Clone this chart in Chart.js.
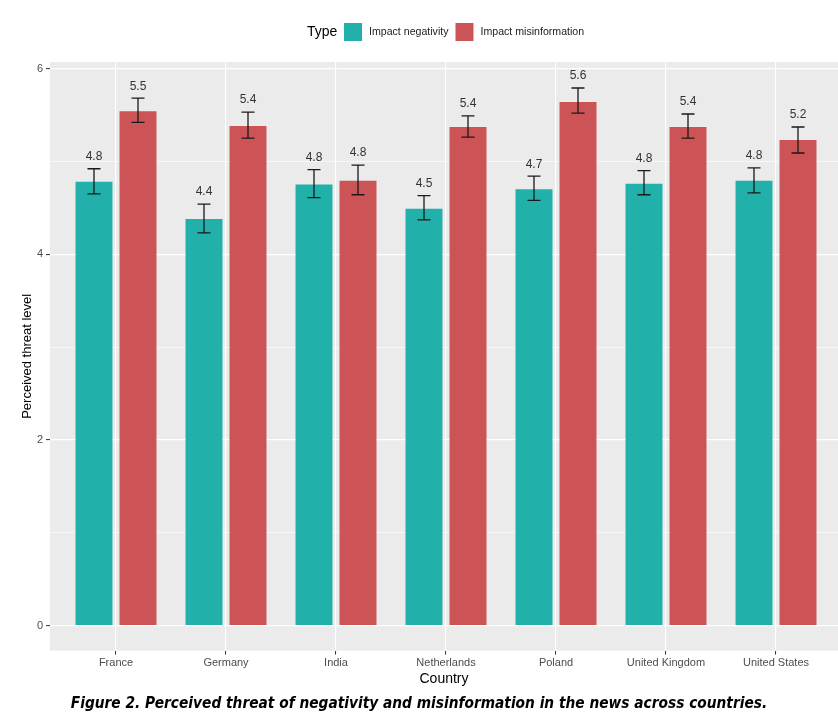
<!DOCTYPE html>
<html>
<head>
<meta charset="utf-8">
<script src="https://cdn.jsdelivr.net/npm/chart.js@4.4.0/dist/chart.umd.min.js"></script>
<style>
  html, body { margin: 0; padding: 0; background: #fff; overflow: hidden; }
  #wrap { width: 838px; height: 724px; }
</style>
</head>
<body>
<div id="wrap"><canvas id="myChart" width="838" height="724"></canvas></div>
<script>
let countries = ['France', 'Germany', 'India', 'Netherlands', 'Poland', 'United Kingdom', 'United States'];

// Impact negativity
let neg_mean = [4.78, 4.38, 4.75, 4.49, 4.70, 4.76, 4.79];
let neg_low = [4.65, 4.23, 4.61, 4.37, 4.58, 4.64, 4.66];
let neg_high = [4.92, 4.54, 4.91, 4.63, 4.84, 4.90, 4.93];

// Impact misinformation
let mis_mean = [5.54, 5.38, 4.79, 5.37, 5.64, 5.37, 5.23];
let mis_low = [5.42, 5.25, 4.64, 5.26, 5.52, 5.25, 5.09];
let mis_high = [5.68, 5.53, 4.96, 5.49, 5.79, 5.51, 5.37];

let y_major = [0, 2, 4, 6];
let y_minor = [1, 3, 5];

const PANEL = '#EBEBEB';

// grey panel behind the plot
const panelBg = {
    id: 'panelBg',
    beforeDraw(chart) {
        const a = chart.chartArea;
        const c = chart.ctx;
        c.save();
        c.fillStyle = PANEL;
        c.fillRect(a.left, a.top, a.right - a.left, a.bottom - a.top);
        c.restore();
    }
};

// error bars + value labels above them
const errorBars = {
    id: 'errorBars',
    afterDatasetsDraw(chart) {
        const c = chart.ctx;
        const y = chart.scales.y;
        chart.data.datasets.forEach((ds, i) => {
            const meta = chart.getDatasetMeta(i);
            meta.data.forEach((bar, j) => {
                const hi = y.getPixelForValue(ds.high[j]);
                const lo = y.getPixelForValue(ds.low[j]);
                const x = bar.x;
                c.save();
                c.strokeStyle = '#1a1a1a';
                c.lineWidth = 1.3;
                c.beginPath();
                c.moveTo(x, hi); c.lineTo(x, lo);
                c.moveTo(x - 6.5, hi); c.lineTo(x + 6.5, hi);
                c.moveTo(x - 6.5, lo); c.lineTo(x + 6.5, lo);
                c.stroke();
                c.fillStyle = '#333';
                c.font = '12px "Liberation Sans", Arial, sans-serif';
                c.textAlign = 'center';
                c.textBaseline = 'middle';
                c.fillText(ds.data[j].y.toFixed(1), x, hi - 12);
                c.restore();
            });
        });
    }
};

// legend in one row with "Type" title on the left
const rowLegend = {
    id: 'rowLegend',
    afterDraw(chart) {
        const c = chart.ctx;
        const cy = 32;
        c.save();
        c.textBaseline = 'middle';
        c.textAlign = 'left';
        c.fillStyle = '#000';
        c.font = '14px "Liberation Sans", Arial, sans-serif';
        c.fillText('Type', 307, cy);
        let x = 344;
        c.font = '10.6px "Liberation Sans", Arial, sans-serif';
        chart.data.datasets.forEach(ds => {
            c.fillStyle = ds.backgroundColor;
            c.fillRect(x, cy - 9, 18, 18);
            c.fillStyle = '#222';
            c.fillText(ds.label, x + 25, cy);
            x += 25 + c.measureText(ds.label).width + 7;
        });
        c.restore();
    }
};

let ctx = document.getElementById('myChart').getContext('2d');

let myChart = new Chart(ctx, {
    type: 'bar',
    data: {
        datasets: [{
                label: 'Impact negativity',
                data: neg_mean.map((v, i) => ({ x: i, y: v })),
                low: neg_low,
                high: neg_high,
                backgroundColor: '#22B1AA',
            },
            {
                label: 'Impact misinformation',
                data: mis_mean.map((v, i) => ({ x: i, y: v })),
                low: mis_low,
                high: mis_high,
                backgroundColor: '#CC5356',
            }
        ]
    },
    options: {
        responsive: false,
        animation: false,
        layout: {
            padding: { top: 62, left: 0, right: 0, bottom: 0 }
        },
        datasets: {
            bar: {
                categoryPercentage: 0.8,
                barPercentage: 0.84,
            }
        },
        scales: {
            x: {
                type: 'linear',
                offset: false,
                min: -0.6,
                max: 6.5636,
                afterBuildTicks: scale => {
                    scale.ticks = countries.map((c, i) => ({ value: i }));
                },
                afterFit: scale => {
                    scale.height = 39;
                },
                grid: {
                    offset: false,
                    color: '#fff',
                    lineWidth: 1.1,
                    tickColor: '#333',
                    tickLength: 4,
                    tickWidth: 1,
                },
                border: { display: false },
                ticks: {
                    autoSkip: false,
                    maxRotation: 0,
                    padding: 2,
                    color: '#4D4D4D',
                    font: { family: '"Liberation Sans", Arial, sans-serif', size: 11 },
                    callback: value => countries[value]
                },
                title: {
                    display: true,
                    text: 'Country',
                    color: '#000',
                    padding: { top: 0, bottom: 2 },
                    font: { family: '"Liberation Sans", Arial, sans-serif', size: 14 }
                }
            },
            y: {
                min: -0.27,
                max: 6.07,
                afterBuildTicks: scale => {
                    scale.ticks = y_major.concat(y_minor).sort((a, b) => a - b).map(v => ({ value: v }));
                },
                afterFit: scale => {
                    scale.width = 50;
                },
                grid: {
                    color: '#fff',
                    lineWidth: c => (y_major.includes(c.tick.value) ? 1.2 : 0.6),
                    tickColor: c => (y_major.includes(c.tick.value) ? '#333' : 'transparent'),
                    tickLength: 4,
                    tickWidth: 1,
                },
                border: { display: false },
                ticks: {
                    padding: 3,
                    color: '#4D4D4D',
                    font: { family: '"Liberation Sans", Arial, sans-serif', size: 11 },
                    callback: value => (y_major.includes(value) ? String(value) : '')
                },
                title: {
                    display: true,
                    text: 'Perceived threat level',
                    color: '#000',
                    padding: { top: 20, bottom: 0 },
                    font: { family: '"Liberation Sans", Arial, sans-serif', size: 13 }
                }
            }
        },
        plugins: {
            legend: { display: false },
            tooltip: { enabled: false },
            title: {
                display: true,
                position: 'bottom',
                text: 'Figure 2. Perceived threat of negativity and misinformation in the news across countries.',
                color: '#000',
                padding: { top: 5, bottom: 11 },
                font: {
                    family: '"DejaVu Sans Condensed", Arial, sans-serif',
                    size: 15.3,
                    weight: 'bold',
                    style: 'italic',
                    lineHeight: 1.2
                }
            }
        }
    },
    plugins: [panelBg, errorBars, rowLegend]
});
</script>
</body>
</html>
